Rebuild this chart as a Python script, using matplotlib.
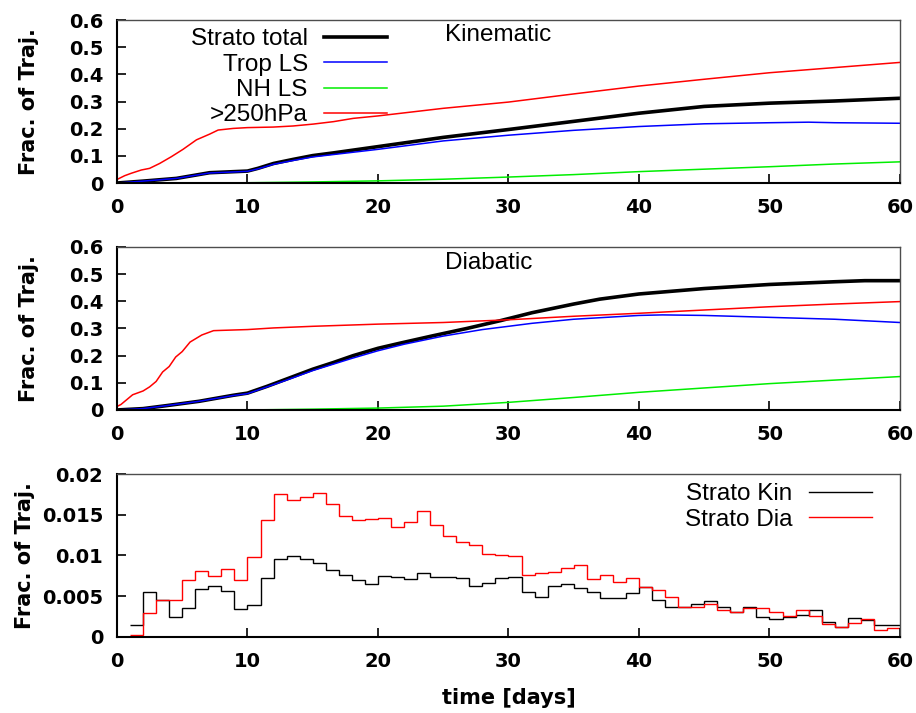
import numpy as np
import matplotlib
matplotlib.use('Agg')
from matplotlib import pyplot as plt

##############################################################################
# Data
# -------------------------------------------

# Kinematic (top panel)
kin_day_total = [0, 2, 4.55, 7.1, 10, 10.8, 12, 13.5, 15, 16.6, 20, 25, 30, 35, 40, 45, 50, 55, 60]
kin_total = [0, 0.007, 0.017, 0.038, 0.044, 0.054, 0.072, 0.087, 0.101, 0.111, 0.134,
             0.168, 0.197, 0.227, 0.257, 0.282, 0.294, 0.302, 0.312]
kin_day_trop = [0, 2, 4.55, 7.1, 10, 10.8, 12, 13.5, 15, 20, 25, 30, 35, 40, 45, 50, 53, 55, 60]
kin_trop = [0, 0.007, 0.017, 0.037, 0.043, 0.052, 0.069, 0.083, 0.096, 0.124,
            0.155, 0.176, 0.194, 0.208, 0.218, 0.222, 0.224, 0.222, 0.220]
kin_day_nh = [0, 10, 15, 20, 25, 30, 35, 40, 45, 50, 55, 60]
kin_nh = [0, 0.001, 0.004, 0.008, 0.014, 0.022, 0.031, 0.042, 0.051, 0.060, 0.070, 0.078]
kin_day_250 = [0, 0.59, 1.1, 1.87, 2.5, 3.27, 4.17, 5.06, 6.09, 7.1, 7.75, 8.9, 10, 11.97,
               13.5, 15.04, 16.6, 18.1, 20, 25, 30, 35, 40, 45, 50, 55, 60]
kin_250 = [0.013, 0.027, 0.036, 0.048, 0.054, 0.072, 0.097, 0.124, 0.159, 0.180, 0.195,
           0.201, 0.204, 0.206, 0.210, 0.217, 0.226, 0.238, 0.247, 0.275, 0.298,
           0.328, 0.357, 0.382, 0.406, 0.425, 0.444]

# Diabatic (middle panel)
dia_day_total = [0, 2, 3.8, 6.3, 8.9, 10, 11.5, 13, 15, 16.6, 18.1, 20, 21.7, 24.2, 26.8,
                 29.4, 31.8, 35, 37, 40, 45, 50, 55, 57.3, 60]
dia_total = [0, 0.005, 0.016, 0.032, 0.054, 0.062, 0.087, 0.114, 0.150, 0.175, 0.200,
             0.227, 0.246, 0.273, 0.300, 0.329, 0.358, 0.390, 0.408, 0.427, 0.447,
             0.462, 0.472, 0.476, 0.476]
dia_day_trop = [0, 2, 3.8, 6.3, 8.9, 10, 11.5, 13, 15, 18, 20, 22, 25, 28, 30, 31.8, 35,
                40, 41.8, 45, 50, 55, 60]
dia_trop = [0, 0.005, 0.016, 0.032, 0.053, 0.060, 0.085, 0.110, 0.145, 0.190, 0.218,
            0.242, 0.272, 0.296, 0.308, 0.319, 0.334, 0.348, 0.350, 0.348, 0.341,
            0.334, 0.322]
dia_day_nh = [0, 10, 15, 20, 25, 30, 35, 40, 45, 50, 55, 60]
dia_nh = [0, 0, 0.003, 0.007, 0.014, 0.028, 0.046, 0.065, 0.081, 0.097, 0.110, 0.123]
dia_day_250 = [0, 0.3, 0.8, 1.2, 2, 2.5, 3, 3.5, 4, 4.5, 5, 5.6, 6.5, 7.4, 8, 10, 12, 15,
               20, 25, 30, 35, 40, 45, 50, 55, 60]
dia_250 = [0.013, 0.020, 0.040, 0.056, 0.070, 0.085, 0.105, 0.140, 0.160, 0.195, 0.215,
           0.250, 0.276, 0.292, 0.293, 0.296, 0.302, 0.308, 0.316, 0.322, 0.332,
           0.345, 0.356, 0.368, 0.380, 0.390, 0.399]

# Daily histogram (bottom panel), bins [1,2] ... [59,60]
bin_edges = np.arange(1, 61)
strato_kin = [0.0015, 0.0055, 0.00455, 0.0024, 0.0035, 0.0059, 0.0063, 0.0056, 0.0034,
              0.0039, 0.0072, 0.0096, 0.0099, 0.0096, 0.0091, 0.0082, 0.0076, 0.0070,
              0.0065, 0.0075, 0.0074, 0.0071, 0.0078, 0.0074, 0.0074, 0.0073, 0.0062,
              0.0066, 0.0072, 0.0074, 0.0055, 0.0049, 0.0062, 0.0065, 0.0060, 0.0055,
              0.0048, 0.0048, 0.0054, 0.0061, 0.0046, 0.0037, 0.0037, 0.0041, 0.0044,
              0.0037, 0.0031, 0.0037, 0.0025, 0.0022, 0.0024, 0.0027, 0.0033, 0.0019,
              0.0012, 0.0023, 0.0021, 0.0015, 0.0015]
strato_dia = [0.0003, 0.0030, 0.0046, 0.0046, 0.00695, 0.0081, 0.0075, 0.0083, 0.0070,
              0.00976, 0.0144, 0.0175, 0.0168, 0.0172, 0.0177, 0.0163, 0.0148, 0.0143,
              0.0145, 0.0146, 0.0135, 0.0141, 0.0154, 0.0137, 0.0124, 0.0117, 0.01134,
              0.0102, 0.0101, 0.0099, 0.0076, 0.0079, 0.0080, 0.0085, 0.0088, 0.00715,
              0.0076, 0.00675, 0.0072, 0.0061, 0.0058, 0.0049, 0.0037, 0.0037, 0.0041,
              0.0033, 0.0031, 0.0035, 0.0035, 0.0031, 0.0026, 0.0033, 0.0026, 0.0016,
              0.0012, 0.0017, 0.0022, 0.0009, 0.0011]

##############################################################################
# Figure
# -------------------------------------------

plt.rcParams['font.family'] = 'DejaVu Sans'
LEG_FONT = dict(family='Liberation Sans', size=17.5)

fig = plt.figure(figsize=(9.16, 7.13), dpi=100)
ax1 = fig.add_axes([0.1277, 0.7433, 0.8548, 0.2286])
ax2 = fig.add_axes([0.1277, 0.4250, 0.8548, 0.2286])
ax3 = fig.add_axes([0.1277, 0.1066, 0.8548, 0.2286])


def style(ax, label_x):
    ax.set_xlim(0, 60)
    ax.set_xticks(range(0, 61, 10))
    ax.tick_params(direction='in', length=6.5, width=1.2, pad=10,
                   labelsize=14, top=False, right=False)
    ax.tick_params(axis='x', pad=11)
    for lab in ax.get_xticklabels() + ax.get_yticklabels():
        lab.set_fontweight('bold')
    ax.spines['left'].set_linewidth(1.5)
    ax.spines['bottom'].set_linewidth(1.5)
    for s in ('top', 'right'):
        ax.spines[s].set_linewidth(1.0)
        ax.spines[s].set_color('0.3')
    ax.set_ylabel('Frac. of Traj.', fontsize=15, fontweight='bold')
    ax.yaxis.set_label_coords(label_x, 0.5)


yt = [0, 0.1, 0.2, 0.3, 0.4, 0.5, 0.6]
ytl = ['0', '0.1', '0.2', '0.3', '0.4', '0.5', '0.6']
leg_opts = dict(loc='upper right', frameon=False, markerfirst=False, prop=LEG_FONT,
                handlelength=2.6, handletextpad=0.66, labelspacing=0.14,
                borderpad=0, borderaxespad=0)

# Kinematic
ax1.plot(kin_day_total, kin_total, color='black', lw=2.6, label='Strato total')
ax1.plot(kin_day_trop, kin_trop, color='#0000ff', lw=1.1, label='Trop LS')
ax1.plot(kin_day_nh, kin_nh, color='#00ee00', lw=1.1, label='NH LS')
ax1.plot(kin_day_250, kin_250, color='#ff0000', lw=1.1, label='>250hPa')
ax1.set_ylim(0, 0.6)
ax1.set_yticks(yt)
ax1.set_yticklabels(ytl)
style(ax1, -0.1)
ax1.text(0.419, 0.91, 'Kinematic', transform=ax1.transAxes, ha='left', va='center', **LEG_FONT)
ax1.legend(bbox_to_anchor=(0.345, 0.95), **leg_opts)

# Diabatic
ax2.plot(dia_day_total, dia_total, color='black', lw=2.6)
ax2.plot(dia_day_trop, dia_trop, color='#0000ff', lw=1.1)
ax2.plot(dia_day_nh, dia_nh, color='#00ee00', lw=1.1)
ax2.plot(dia_day_250, dia_250, color='#ff0000', lw=1.1)
ax2.set_ylim(0, 0.6)
ax2.set_yticks(yt)
ax2.set_yticklabels(ytl)
style(ax2, -0.1)
ax2.text(0.419, 0.9, 'Diabatic', transform=ax2.transAxes, ha='left', va='center', **LEG_FONT)

# Daily fraction
ax3.stairs(strato_kin, bin_edges, color='black', lw=1.0, baseline=None, label='Strato Kin')
ax3.stairs(strato_dia, bin_edges, color='#ff0000', lw=1.0, baseline=None, label='Strato Dia')
ax3.set_ylim(0, 0.02)
ax3.set_yticks([0, 0.005, 0.01, 0.015, 0.02])
ax3.set_yticklabels(['0', '0.005', '0.01', '0.015', '0.02'])
style(ax3, -0.105)
ax3.set_xlabel('time [days]', fontsize=15, fontweight='bold', labelpad=12)
ax3.legend(bbox_to_anchor=(0.964, 0.943), **leg_opts)

fig.savefig('out.png', dpi=100)
